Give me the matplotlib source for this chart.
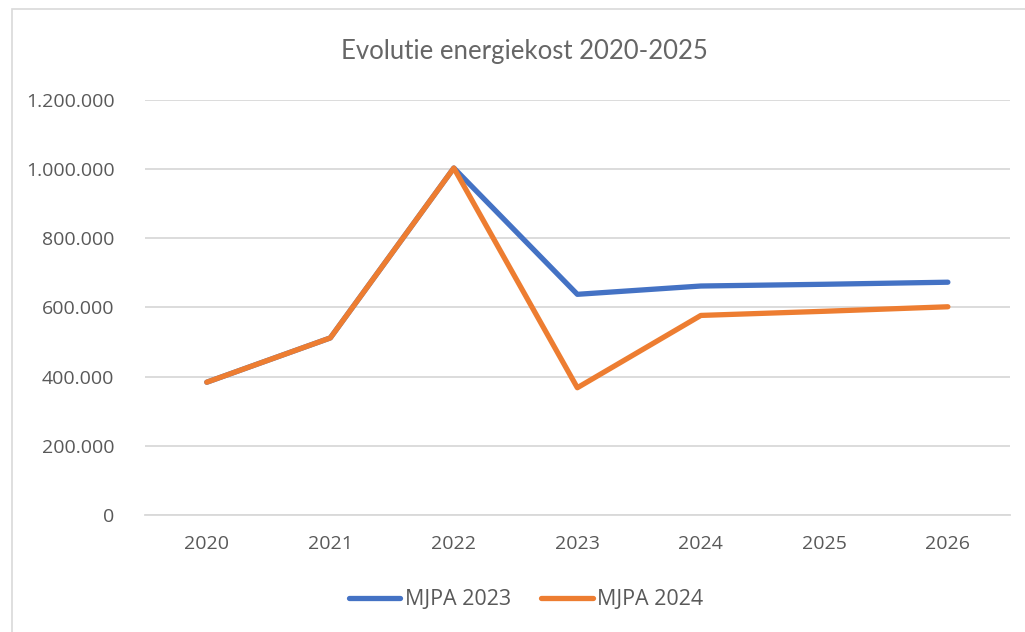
import matplotlib.pyplot as plt
from matplotlib.ticker import FuncFormatter, MultipleLocator
from matplotlib.patches import Rectangle

years = ['2020', '2021', '2022', '2023', '2024', '2025', '2026']
mjpa_2023 = [384000, 512000, 1003000, 638000, 662000, 667000, 673000]
mjpa_2024 = [384000, 512000, 1003000, 368000, 577000, 589000, 602000]

text_col = '#595959'
grid_col = '#D9D9D9'

fig = plt.figure(figsize=(10.25, 6.32), dpi=100)
ax = fig.add_axes([0.1415, 0.185, 0.8435, 0.657])

x = range(len(years))
ax.plot(x, mjpa_2023, color='#4472C4', lw=3.8, solid_capstyle='round',
        solid_joinstyle='round', label='MJPA 2023')
ax.plot(x, mjpa_2024, color='#ED7D31', lw=3.8, solid_capstyle='round',
        solid_joinstyle='round', label='MJPA 2024')

ax.set_xlim(-0.5, 6.5)
ax.set_ylim(0, 1200000)
ax.set_xticks(list(x))
ax.set_xticklabels(years)
ax.yaxis.set_major_locator(MultipleLocator(200000))
ax.yaxis.set_major_formatter(FuncFormatter(lambda v, p: f'{int(v):,}'.replace(',', '.')))
ax.grid(axis='y', color=grid_col, lw=1.3)
ax.set_axisbelow(True)
for s in ['top', 'right', 'left']:
    ax.spines[s].set_visible(False)
ax.spines['bottom'].set_color(grid_col)
ax.spines['bottom'].set_linewidth(1.3)
ax.tick_params(length=0, labelsize=14, labelcolor=text_col)
ax.tick_params(axis='x', pad=14)
ax.tick_params(axis='y', pad=22)
for lab in ax.get_xticklabels() + ax.get_yticklabels():
    lab.set_family('Open Sans')

fig.text(0.512, 0.918, 'Evolutie energiekost 2020-2025', ha='center', va='center',
         fontsize=18.5, color='#666666', family='Lato', fontweight='normal')

fig.legend(loc='center', bbox_to_anchor=(0.513, 0.051), ncol=2, frameon=False,
           prop={'family': 'Open Sans', 'size': 15.5}, labelcolor=text_col,
           handlelength=2.4, handletextpad=0.2, columnspacing=1.4)

fig.patches.append(Rectangle((0.012, -0.1), 1.1, 1.086, transform=fig.transFigure,
                             fill=False, edgecolor='#D9D9D9', lw=1.2))

fig.savefig('out.png', dpi=100)
